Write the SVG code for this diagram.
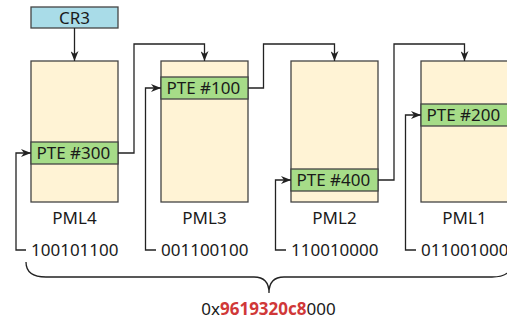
<svg xmlns="http://www.w3.org/2000/svg" width="507" height="322" viewBox="0 0 507 322">
  <defs>
    <style>
      text { font-family: "Noto Sans", "Open Sans", sans-serif; font-size: 17px; fill: #1a1a1a; }
      .page { fill: #fff3d5; stroke: #444; stroke-width: 1.3; }
      .pte { fill: #a6dc88; stroke: #444; stroke-width: 1.3; }
      .reg { fill: #a9dce8; stroke: #444; stroke-width: 1.3; }
      .wire { fill: none; stroke: #222; stroke-width: 1.3; }
      .mid { text-anchor: middle; }
      .hi { fill: #d03838; font-weight: bold; }
    </style>
    <marker id="arrow" viewBox="0 0 10 8" refX="10" refY="4" markerWidth="10" markerHeight="8" markerUnits="userSpaceOnUse" orient="auto">
      <path d="M0,0 L10,4 L0,8 L3,4 Z" fill="#222"/>
    </marker>
  </defs>

  <!-- CR3 register -->
  <g id="cr3">
    <rect class="reg" x="31" y="7" width="87" height="21"/>
    <text class="mid" x="74.5" y="23.5">CR3</text>
  </g>

  <!-- page map levels -->
  <g id="pml4">
    <rect class="page" x="31" y="61" width="87" height="141"/>
    <rect class="pte" x="31" y="142" width="87" height="22"/>
    <text x="36.5" y="159">PTE #300</text>
    <text class="mid" x="74.5" y="224">PML4</text>
  </g>
  <g id="pml3">
    <rect class="page" x="161" y="61" width="87" height="141"/>
    <rect class="pte" x="161" y="77" width="87" height="22"/>
    <text x="166.5" y="94">PTE #100</text>
    <text class="mid" x="204.5" y="224">PML3</text>
  </g>
  <g id="pml2">
    <rect class="page" x="291" y="61" width="87" height="141"/>
    <rect class="pte" x="291" y="169" width="87" height="22"/>
    <text x="296.5" y="186">PTE #400</text>
    <text class="mid" x="334.5" y="224">PML2</text>
  </g>
  <g id="pml1">
    <rect class="page" x="421" y="61" width="87" height="141"/>
    <rect class="pte" x="421" y="104" width="87" height="22"/>
    <text x="426.5" y="121">PTE #200</text>
    <text class="mid" x="464.5" y="224">PML1</text>
  </g>

  <!-- index bits -->
  <g id="indices">
    <text x="31" y="255.5">100101100</text>
    <text x="161" y="255.5">001100100</text>
    <text x="291" y="255.5">110010000</text>
    <text x="421" y="255.5">011001000</text>
  </g>

  <!-- virtual address -->
  <g id="address">
    <text class="mid" x="268.5" y="315">0x<tspan class="hi">9619320c8</tspan>000</text>
  </g>

  <g id="connectors">
    <!-- CR3 to PML4 -->
    <path class="wire" d="M74.5,28 V61" marker-end="url(#arrow)"/>
    <!-- entry to next table -->
    <path class="wire" d="M118,153 H134 V44 H204.5 V61" marker-end="url(#arrow)"/>
    <path class="wire" d="M248,88 H263.5 V44 H334.5 V61" marker-end="url(#arrow)"/>
    <path class="wire" d="M378,180 H394 V44 H464.5 V61" marker-end="url(#arrow)"/>
    <!-- index selects entry -->
    <path class="wire" d="M26,250 H16 V153 H31" marker-end="url(#arrow)"/>
    <path class="wire" d="M156,250 H145.5 V88 H161" marker-end="url(#arrow)"/>
    <path class="wire" d="M286,250 H275.5 V180 H291" marker-end="url(#arrow)"/>
    <path class="wire" d="M416,250 H405.5 V115 H421" marker-end="url(#arrow)"/>
    <!-- brace under the index bits -->
    <path class="wire" d="M26,262 Q26,277 46,277 H254 Q269,277 269,293 Q269,277 284,277 H492 Q512,277 512,262"/>
  </g>
</svg>
